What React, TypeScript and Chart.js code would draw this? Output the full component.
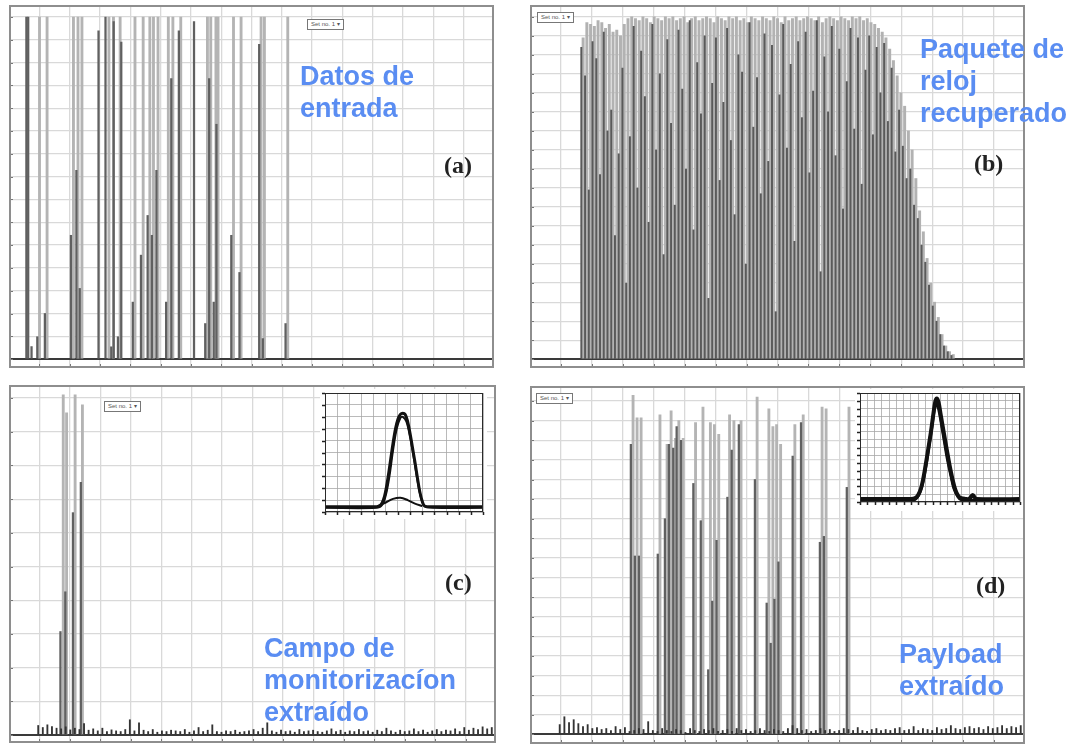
import React, { useEffect, useRef } from "react";
import { Chart, registerables } from "chart.js";

Chart.register(...registerables);

// ---------------- (a) Datos de entrada ----------------
const aLightPos = [0.97, 1.22, 2.09, 2.24, 2.37, 3.26, 3.41, 3.63, 4.12, 4.39, 4.61, 4.73, 4.88, 5.22, 5.37, 5.63, 6.51, 6.62, 6.79, 6.86, 7.37, 7.62, 8.28, 8.39, 9.16];
const aLightVal = [15, 15, 15, 15, 15, 15, 15, 15, 15, 15, 15, 15, 15, 15, 15, 15, 15, 15, 15, 15, 15, 15, 15, 15, 15];
const aDarkPos = [0.6, 0.66, 0.77, 0.96, 1.21, 2.07, 2.25, 2.36, 2.98, 3.21, 3.4, 3.48, 3.62, 3.73, 4.11, 4.38, 4.6, 4.74, 4.89, 5.21, 5.38, 5.63, 6.13, 6.5, 6.63, 6.78, 6.87, 7.36, 7.63, 8.28, 8.4, 9.15];
const aDarkVal = [15, 15, 0.55, 0.98, 2.0, 5.43, 8.28, 3.1, 14.4, 15, 0.54, 14.8, 0.98, 13.9, 2.5, 4.56, 6.3, 5.43, 8.28, 2.5, 12.3, 14.4, 14.8, 1.56, 12.3, 2.5, 10.3, 5.43, 3.8, 13.8, 0.9, 1.56];

// ---------------- (b) Paquete de reloj recuperado (one value per pulse slot) ----------------
const bLightVal = [
  16.9, 17.7, 17.6, 17.5, 17.8, 17.7, 17.4, 17.6, 17.2, 17.3,
  17.0, 17.6, 17.9, 18.0, 17.9, 17.8, 18.0, 17.9, 17.7, 18.0,
  17.9, 17.8, 18.0, 17.9, 18.0, 17.8, 17.9, 18.0, 17.7, 17.9,
  18.0, 17.8, 17.9, 18.0, 17.9, 17.7, 18.0, 17.9, 17.8, 18.0,
  17.9, 18.0, 17.8, 17.9, 17.7, 18.0, 17.9, 17.8, 18.0, 17.9,
  17.8, 18.0, 17.9, 17.7, 18.0, 17.8, 17.9, 18.0, 17.8, 17.9,
  18.0, 17.9, 17.8, 18.0, 17.7, 17.9, 18.0, 17.9, 17.8, 18.0,
  17.9, 17.8, 18.0, 17.9, 18.0, 17.8, 17.9, 17.7, 17.6, 17.4,
  17.2, 16.9, 16.3, 15.7, 14.9, 14.0, 13.3, 12.0, 11.0, 9.5,
  7.8, 6.7, 5.3, 4.0, 3.0, 2.2, 1.3, 0.7, 0.4, 0.25
];
const bDarkVal = [
  16.4, 14.9, 8.9, 16.7, 15.8, 9.7, 17.2, 12.0, 13.1, 6.5,
  10.8, 15.3, 4.0, 11.7, 17.5, 9.0, 16.2, 13.8, 7.2, 17.6,
  11.0, 15.0, 5.5, 16.8, 12.4, 8.1, 17.3, 14.2, 10.0, 17.8,
  6.8, 15.6, 12.9, 17.0, 3.2, 14.5, 16.9, 9.4, 13.5, 17.4,
  11.5, 7.6, 16.0, 15.1, 5.0, 17.7, 12.2, 14.8, 8.7, 17.1,
  10.4, 16.5, 2.5, 13.9, 17.6, 11.1, 15.5, 6.2, 16.7, 12.7,
  17.2, 9.8, 14.1, 17.8, 4.6, 15.9, 13.0, 17.5, 10.7, 16.3,
  7.9, 14.6, 17.4, 12.1, 16.9, 9.2, 15.2, 17.0, 11.8, 16.4,
  14.0, 16.6, 12.5, 15.3, 10.9, 13.1, 11.2, 9.5, 10.0, 8.1,
  7.4, 6.0, 5.1, 3.9, 2.8, 2.0, 1.3, 0.7, 0.4, 0.2
];

// ---------------- (c) Campo de monitorización extraído ----------------
const cLightPos = [1.71, 1.82, 2.1, 2.34];
const cLightVal = [10.1, 9.56, 10.1, 9.8];
const cDarkPos = [1.69, 1.85, 2.1, 2.36];
const cDarkVal = [3.07, 4.25, 6.6, 7.5];
const cNoise = [
  0.28, 0.22, 0.3, 0.25, 0.2, 0.18, 0.24, 0.15, 0.2, 0.16,
  0.34, 0.14, 0.18, 0.12, 0.2, 0.1, 0.15, 0.12, 0.1, 0.16,
  0.45, 0.12, 0.36, 0.14, 0.1, 0.16, 0.08, 0.12, 0.1, 0.14,
  0.12, 0.1, 0.16, 0.08, 0.12, 0.22, 0.1, 0.14, 0.3, 0.1,
  0.08, 0.12, 0.1, 0.14, 0.08, 0.1, 0.12, 0.16, 0.1, 0.2,
  0.36, 0.12, 0.08, 0.14, 0.1, 0.12, 0.08, 0.16, 0.1, 0.12,
  0.14, 0.1, 0.08, 0.12, 0.18, 0.1, 0.14, 0.08, 0.12, 0.1,
  0.16, 0.1, 0.12, 0.08, 0.14, 0.1, 0.2, 0.12, 0.08, 0.14,
  0.1, 0.12, 0.18, 0.1, 0.14, 0.08, 0.12, 0.16, 0.1, 0.14,
  0.12, 0.18, 0.1, 0.22, 0.14, 0.2, 0.16, 0.24, 0.18, 0.22
];

// ---------------- (d) Payload extraído ----------------
const dSpikePos = [3.26, 3.39, 3.52, 4.13, 4.36, 4.49, 4.63, 4.74, 4.88, 5.28, 5.52, 5.76, 5.89, 6.03, 6.38, 6.52, 6.75, 7.27, 7.65, 7.78, 7.9, 8.03, 8.49, 8.76, 9.37, 9.5, 10.24];
const dLightVal = [17.3, 16.15, 16.15, 16.3, 14.8, 16.5, 15.1, 16.0, 15.1, 15.9, 16.7, 15.9, 15.8, 15.3, 16.3, 16.0, 16.0, 17.2, 16.6, 15.7, 15.8, 14.8, 15.8, 16.3, 16.7, 16.6, 16.7];
const dDarkVal = [14.8, 9.1, 9.1, 9.2, 11.0, 14.8, 14.6, 15.7, 15.0, 12.8, 10.9, 3.3, 6.8, 9.9, 12.1, 14.5, 15.8, 13.0, 6.7, 4.65, 6.9, 8.8, 14.2, 15.9, 9.8, 10.1, 12.6];
const dNoise = [
  0.5, 0.9, 0.6, 0.75, 0.55, 0.4, 0.5, 0.3, 0.35, 0.25,
  0.3, 0.2, 0.4, 0.25, 0.35, 0.15, 0.2, 0.3, 0.25, 0.65,
  0.2, 0.15, 0.3, 0.2, 0.15, 0.25, 0.2, 0.1, 0.3, 0.2,
  0.15, 0.25, 0.2, 0.3, 0.15, 0.2, 0.25, 0.15, 0.3, 0.2,
  0.25, 0.15, 0.2, 0.3, 0.2, 0.15, 0.25, 0.2, 0.15, 0.3,
  0.45, 0.3, 0.2, 0.25, 0.15, 0.2, 0.3, 0.2, 0.25, 0.15,
  0.2, 0.3, 0.25, 0.2, 0.35, 0.2, 0.15, 0.25, 0.3, 0.2,
  0.25, 0.2, 0.3, 0.35, 0.2, 0.25, 0.4, 0.2, 0.3, 0.25,
  0.2, 0.35, 0.25, 0.3, 0.45, 0.3, 0.25, 0.35, 0.4, 0.3,
  0.35, 0.25, 0.4, 0.3, 0.35, 0.45, 0.3, 0.4, 0.35, 0.45
];

// ---------------- insets (pulse shapes) ----------------
const icMainX = [0, 4.0, 4.5, 4.8, 5.0, 5.2, 5.4, 5.6, 5.8, 6.0, 6.2, 6.4, 6.6, 6.8, 7.0, 7.2, 7.4, 7.6, 7.8, 8.0, 8.2, 9, 13];
const icMainY = [0.45, 0.45, 0.5, 1.0, 1.8, 3.0, 4.4, 5.8, 7.0, 7.8, 8.2, 8.3, 8.2, 7.6, 6.6, 5.4, 4.2, 2.9, 1.7, 0.9, 0.5, 0.45, 0.45];
const icSecX = [0, 4.2, 4.7, 5.0, 5.3, 5.6, 5.9, 6.2, 6.4, 6.7, 7.0, 7.3, 7.6, 7.9, 8.2, 9, 13];
const icSecY = [0.35, 0.35, 0.6, 1.4, 3.0, 5.2, 7.0, 7.9, 8.0, 7.6, 6.3, 4.6, 2.7, 1.2, 0.5, 0.35, 0.35];
const icBumpX = [4.3, 5.0, 5.6, 6.2, 6.8, 7.4, 8.0];
const icBumpY = [0.5, 0.8, 1.1, 1.2, 1.0, 0.7, 0.5];

const idMainX = [0, 7.0, 7.6, 8.0, 8.4, 8.7, 9.0, 9.4, 9.8, 10.1, 10.35, 10.55, 10.8, 11.1, 11.5, 11.9, 12.3, 12.7, 13.1, 13.5, 13.9, 14.5, 15.0, 15.5, 16.0, 22];
const idMainY = [0.4, 0.4, 0.5, 0.9, 1.8, 3.0, 4.6, 6.9, 9.3, 11.4, 12.9, 13.3, 12.8, 11.2, 9.0, 6.9, 4.8, 3.0, 1.6, 0.8, 0.5, 0.4, 0.4, 0.9, 0.4, 0.4];
const idSecX = [0, 7.2, 7.8, 8.3, 8.7, 9.1, 9.5, 9.9, 10.25, 10.5, 10.8, 11.2, 11.6, 12.0, 12.5, 12.9, 13.4, 13.9, 22];
const idSecY = [0.2, 0.2, 0.5, 1.4, 2.8, 4.8, 7.3, 9.8, 12.0, 12.6, 12.0, 10.0, 7.8, 5.6, 3.4, 1.8, 0.8, 0.3, 0.2];

const pts = (xs: number[], ys: number[]) => xs.map((x, i) => ({ x, y: ys[i] }));
const slots = (ys: number[]) => ys.map((y, i) => ({ x: i, y }));

const framePlugin = {
  id: "frame",
  afterDatasetsDraw(chart: any, _a: any, o: any) {
    const { ctx, chartArea: a } = chart;
    const xs = chart.scales.x;
    const ys = chart.scales.y;
    ctx.save();
    ctx.strokeStyle = o.tickColor;
    ctx.lineWidth = o.tickWidth || 1;
    for (const t of ys.ticks) {
      const p = Math.round(ys.getPixelForValue(t.value)) + 0.5;
      ctx.beginPath();
      ctx.moveTo(a.left, p);
      ctx.lineTo(a.left + o.dir * o.tick, p);
      ctx.stroke();
    }
    for (const t of xs.ticks) {
      const p = Math.round(xs.getPixelForValue(t.value)) + 0.5;
      ctx.beginPath();
      ctx.moveTo(p, a.bottom);
      ctx.lineTo(p, a.bottom - o.dir * o.tick);
      ctx.stroke();
    }
    ctx.strokeStyle = o.color;
    ctx.lineWidth = o.width;
    const h = o.width / 2;
    ctx.strokeRect(a.left + h, a.top + h, a.right - a.left - o.width, a.bottom - a.top - o.width);
    ctx.restore();
  },
};

const hiddenX = (min: number, max: number) => ({ type: "linear", display: false, min, max, offset: false, grid: { offset: false } });

function panelConfig(yMin: number, yMax: number, datasets: any[], extra: any) {
  return {
    type: "bar",
    data: { datasets },
    options: {
      responsive: false,
      animation: false,
      events: [],
      layout: { padding: 0 },
      plugins: {
        legend: { display: false },
        tooltip: { enabled: false },
        frame: { color: "#8e8e8e", width: 2, tick: 4, tickColor: "#777", dir: 1 },
      },
      scales: {
        x: {
          type: "linear", min: 0, max: 16, offset: false,
          ticks: { display: false, stepSize: 1, includeBounds: false },
          grid: { color: "#d9d9d9", lineWidth: 1.3, drawTicks: false, offset: false },
          border: { display: false },
        },
        y: {
          type: "linear", min: yMin, max: yMax,
          ticks: { display: false, stepSize: 1, includeBounds: false },
          grid: {
            color: (c: any) => (c.tick && c.tick.value === 0 ? "#3a3a3a" : "#d9d9d9"),
            lineWidth: (c: any) => (c.tick && c.tick.value === 0 ? 2 : 1.3),
            drawTicks: false,
          },
          border: { display: false },
        },
        ...extra,
      },
    },
    plugins: [framePlugin],
  };
}

function insetConfig(xMax: number, yMax: number, datasets: any[], pad: any) {
  return {
    type: "line",
    data: { datasets },
    options: {
      responsive: false,
      animation: false,
      events: [],
      layout: { padding: pad },
      elements: { point: { radius: 0 }, line: { tension: 0.35 } },
      plugins: {
        legend: { display: false },
        tooltip: { enabled: false },
        frame: { color: "#2a2a2a", width: 1, tick: 3, tickColor: "#222", tickWidth: 1.5, dir: -1 },
      },
      scales: {
        x: {
          type: "linear", min: 0, max: xMax,
          ticks: { display: false, stepSize: 1, includeBounds: false },
          grid: { color: "#a8a8a8", lineWidth: 0.8, drawTicks: false },
          border: { display: false },
        },
        y: {
          type: "linear", min: 0, max: yMax,
          ticks: { display: false, stepSize: 1, includeBounds: false },
          grid: { color: "#a8a8a8", lineWidth: 0.8, drawTicks: false },
          border: { display: false },
        },
      },
    },
    plugins: [framePlugin],
  };
}

const bar = (label: string, data: any[], axis: string, color: string, w: number) => ({
  label, data, xAxisID: axis, backgroundColor: color, barThickness: w, borderWidth: 0,
});

const configA = () =>
  panelConfig(-0.39, 15.53, [
    bar("oscuro", pts(aDarkPos, aDarkVal), "xd", "#606060", 1.6),
    bar("claro", pts(aLightPos, aLightVal), "xl", "#b4b4b4", 2.2),
  ], { xd: hiddenX(0, 16), xl: hiddenX(0, 16) });

const configB = () =>
  panelConfig(-0.46, 18.62, [
    bar("oscuro", slots(bDarkVal), "xd", "#5a5a5a", 1.3),
    bar("claro", slots(bLightVal), "xl", "#b2b2b2", 2.3),
  ], { xd: hiddenX(-13.9, 118.5), xl: hiddenX(-13.9, 118.5) });

const configC = () =>
  panelConfig(-0.24, 10.39, [
    bar("ruido", slots(cNoise), "xn", "#333", 1.2),
    bar("oscuro", pts(cDarkPos, cDarkVal), "xd", "#606060", 1.6),
    bar("claro", pts(cLightPos, cLightVal), "xl", "#b4b4b4", 2.2),
  ], { xn: hiddenX(-6.64, 99.66), xd: hiddenX(0, 16), xl: hiddenX(0, 16) });

const configD = () =>
  panelConfig(-0.49, 17.77, [
    bar("ruido", slots(dNoise), "xn", "#333", 1.2),
    bar("oscuro", pts(dSpikePos, dDarkVal), "xd", "#606060", 1.6),
    bar("claro", pts(dSpikePos, dLightVal), "xl", "#b4b4b4", 2.2),
  ], { xn: hiddenX(-6.64, 99.66), xd: hiddenX(0, 16), xl: hiddenX(0, 16) });

const line = (xs: number[], ys: number[], w: number) => ({
  data: pts(xs, ys), borderColor: "#111", borderWidth: w, fill: false, pointRadius: 0,
});

const configIC = () =>
  insetConfig(13, 10, [line(icMainX, icMainY, 3), line(icSecX, icSecY, 2), line(icBumpX, icBumpY, 2)], { left: 5, right: 4, top: 4, bottom: 7 });

const configID = () =>
  insetConfig(22, 14, [line(idMainX, idMainY, 4), line(idSecX, idSecY, 3)], { left: 5, right: 3, top: 4, bottom: 9 });

function ChartBox(props: { left: number; top: number; width: number; height: number; make: () => any; bg?: string }) {
  const ref = useRef<HTMLCanvasElement>(null);
  useEffect(() => {
    const chart = new Chart(ref.current as HTMLCanvasElement, props.make());
    return () => chart.destroy();
  }, []);
  return (
    <div style={{ position: "absolute", left: props.left, top: props.top, width: props.width, height: props.height, background: props.bg || "transparent" }}>
      <canvas ref={ref} width={props.width} height={props.height} style={{ display: "block" }} />
    </div>
  );
}

const blueStyle: React.CSSProperties = {
  position: "absolute",
  color: "#5a8df2",
  fontFamily: '"Liberation Sans", Arial, sans-serif',
  fontWeight: 700,
  fontSize: 27,
  lineHeight: "32px",
  whiteSpace: "nowrap",
};

const tagStyle: React.CSSProperties = {
  position: "absolute",
  fontFamily: '"Liberation Serif", "Times New Roman", serif',
  fontWeight: 700,
  fontSize: 24,
  color: "#222",
  lineHeight: "28px",
};

const setStyle: React.CSSProperties = {
  position: "absolute",
  border: "1px solid #777",
  background: "#fff",
  fontFamily: '"Liberation Sans", Arial, sans-serif',
  fontSize: 6,
  lineHeight: "9px",
  padding: "0 3px",
  color: "#555",
  whiteSpace: "nowrap",
};

export default function App() {
  return (
    <div style={{ position: "absolute", left: 0, top: 0, width: 1070, height: 745, background: "#fff", overflow: "hidden" }}>
      <ChartBox left={9} top={5} width={485} height={363} make={configA} />
      <ChartBox left={530} top={5} width={495} height={363} make={configB} />
      <ChartBox left={9} top={385} width={487} height={358} make={configC} />
      <ChartBox left={530} top={386} width={495} height={358} make={configD} />
      <ChartBox left={320} top={389} width={167} height={130} make={configIC} bg="#fff" />
      <ChartBox left={855} top={389} width={168} height={122} make={configID} bg="#fff" />

      <div style={{ ...setStyle, left: 307, top: 19 }}>Set no. 1 ▾</div>
      <div style={{ ...setStyle, left: 537, top: 12 }}>Set no. 1 ▾</div>
      <div style={{ ...setStyle, left: 104, top: 401 }}>Set no. 1 ▾</div>
      <div style={{ ...setStyle, left: 536, top: 393 }}>Set no. 1 ▾</div>

      <div style={{ ...tagStyle, left: 444, top: 151 }}>(a)</div>
      <div style={{ ...tagStyle, left: 974, top: 149 }}>(b)</div>
      <div style={{ ...tagStyle, left: 445, top: 568 }}>(c)</div>
      <div style={{ ...tagStyle, left: 976, top: 571 }}>(d)</div>

      <div style={{ ...blueStyle, left: 300, top: 60 }}>Datos de<br />entrada</div>
      <div style={{ ...blueStyle, left: 920, top: 33 }}>Paquete de<br />reloj<br />recuperado</div>
      <div style={{ ...blueStyle, left: 264, top: 632 }}>Campo de<br />monitorizacíon<br />extraído</div>
      <div style={{ ...blueStyle, left: 899, top: 638 }}>Payload<br />extraído</div>
    </div>
  );
}
